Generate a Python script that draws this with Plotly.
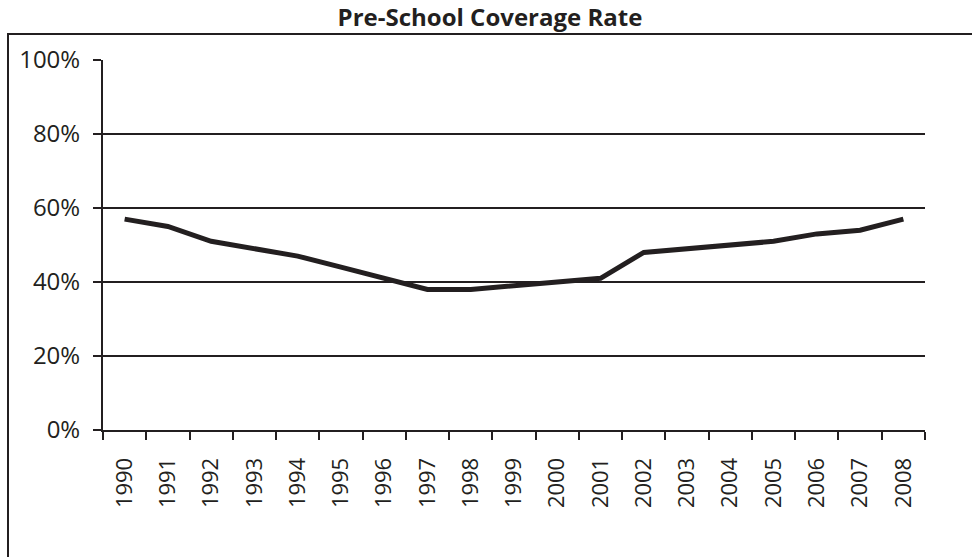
import plotly.graph_objects as go

years = [str(y) for y in range(1990, 2009)]
coverage = [0.57, 0.55, 0.51, 0.49, 0.47, 0.44, 0.41, 0.38, 0.38, 0.39,
            0.40, 0.41, 0.48, 0.49, 0.50, 0.51, 0.53, 0.54, 0.57]
y_ticks = [0, 0.2, 0.4, 0.6, 0.8, 1.0]
title_text = "Pre-School Coverage Rate"

ink = "#231f20"
font_family = "Open Sans, Liberation Sans, sans-serif"

fig = go.Figure()
fig.add_trace(go.Scatter(
    x=years, y=coverage, mode="lines",
    line=dict(color=ink, width=5),
    hoverinfo="skip", showlegend=False,
))

fig.update_layout(
    width=972, height=557,
    margin=dict(l=103, r=47, t=60, b=127),
    paper_bgcolor="white", plot_bgcolor="white",
    font=dict(family=font_family, color=ink, size=22),
    title=dict(text="<b>" + title_text + "</b>", x=490 / 972, xref="container", xanchor="center",
               y=1 - 18 / 557, yref="container", yanchor="middle",
               font=dict(size=24, color=ink, family=font_family)),
    xaxis=dict(type="category", range=[-0.5, 18.5], tickson="boundaries",
               ticks="outside", ticklen=8, tickwidth=2, tickcolor=ink,
               tickangle=-90, showgrid=False, showline=True, linecolor=ink, linewidth=2,
               tickfont=dict(size=22), ticklabelstandoff=17, zeroline=False, fixedrange=True),
    yaxis=dict(range=[0, 1], tickvals=y_ticks, tickformat=".0%",
               ticks="outside", ticklen=8, tickwidth=2, tickcolor=ink,
               showgrid=True, gridcolor=ink, gridwidth=2,
               showline=True, linecolor=ink, linewidth=2, zeroline=False,
               tickfont=dict(size=24), ticklabelstandoff=8, fixedrange=True),
    shapes=[dict(type="rect", xref="paper", yref="paper",
                 x0=(8 - 103) / 822, x1=1.3, y0=-1.0, y1=1 + (60 - 34) / 370,
                 line=dict(color=ink, width=2), fillcolor="rgba(0,0,0,0)", layer="below")],
)

fig.write_html("out.html")
